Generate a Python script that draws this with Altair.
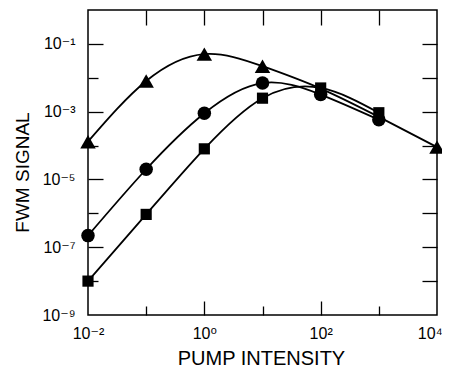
import altair as alt
import pandas as pd

# ---- data (log-log) ----
series_names = ["triangles", "circles", "squares"]

tri_x = [0.01, 0.1, 1, 10, 10000]
tri_y = [1.3e-4, 8e-3, 5e-2, 2.2e-2, 9e-5]
# triangle curve also passes these (unmarked) points
tri_curve_x = [0.01, 0.1, 1, 10, 100, 1000, 10000]
tri_curve_y = [1.3e-4, 8e-3, 5e-2, 2.2e-2, 4.8e-3, 7e-4, 9e-5]

circ_x = [0.01, 0.1, 1, 10, 100, 1000]
circ_y = [2.2e-7, 2e-5, 9e-4, 7e-3, 3.2e-3, 5.8e-4]

sq_x = [0.01, 0.1, 1, 10, 100, 1000]
sq_y = [1e-8, 9.3e-7, 8e-5, 2.5e-3, 5e-3, 9.3e-4]

x_major = [1e-2, 1, 1e2, 1e4]
x_major_ticks = [1, 1e2]
x_minor_ticks = [1e-1, 1e1, 1e3]
x_all_ticks = [1e-1, 1, 1e1, 1e2, 1e3]
y_major = [1e-9, 1e-7, 1e-5, 1e-3, 1e-1]
y_major_ticks = [1e-7, 1e-5, 1e-3, 1e-1]
y_minor_ticks = [1e-8, 1e-6, 1e-4, 1e-2]
y_all_ticks = [1e-8, 1e-7, 1e-6, 1e-5, 1e-4, 1e-3, 1e-2, 1e-1]

curves = pd.concat([
    pd.DataFrame({"pump": tri_curve_x, "signal": tri_curve_y, "series": "triangles"}),
    pd.DataFrame({"pump": circ_x, "signal": circ_y, "series": "circles"}),
    pd.DataFrame({"pump": sq_x, "signal": sq_y, "series": "squares"}),
], ignore_index=True)

points = pd.concat([
    pd.DataFrame({"pump": tri_x, "signal": tri_y, "series": "triangles"}),
    pd.DataFrame({"pump": circ_x, "signal": circ_y, "series": "circles"}),
    pd.DataFrame({"pump": sq_x, "signal": sq_y, "series": "squares"}),
], ignore_index=True)

FONT = "Liberation Sans, Arial, Helvetica, DejaVu Sans, sans-serif"
xs = alt.Scale(type="log", domain=[1e-2, 1e4], nice=False)
ys = alt.Scale(type="log", domain=[1e-9, 1], nice=False)

lab = ("'10' + (round(log(datum.value)/LN10) < 0 ? '\u207b' : '') + "
       "['\u2070','\u00b9','\u00b2','\u00b3','\u2074','\u2075','\u2076','\u2077','\u2078','\u2079']"
       "[abs(round(log(datum.value)/LN10))]")


def tick_axis(orient, values, size):
    return alt.Axis(orient=orient, values=values, labels=False, domain=False, grid=False,
                    ticks=True, tickSize=size, offset=-size, tickColor="black",
                    tickWidth=1.3, title=None)


label_x = alt.Axis(orient="bottom", values=x_major, ticks=False, tickSize=0, domain=False,
                   grid=False, labelExpr=lab, labelFont=FONT, labelFontSize=16,
                   labelColor="black", labelPadding=23, labelBaseline="alphabetic",
                   labelAlign={"condition": {"test": "datum.value >= 10000", "value": "right"},
                               "value": "center"},
                   labelOffset={"condition": {"test": "datum.value >= 10000", "value": 5},
                                "value": 0},
                   labelFlush=False, labelOverlap=False, labelBound=False,
                   title="PUMP INTENSITY", titleFont=FONT, titleFontSize=20,
                   titleFontWeight="normal", titleColor="black", titleX=173, titleY=49,
                   titleBaseline="alphabetic", titleAlign="center")
label_y = alt.Axis(orient="left", values=y_major, ticks=False, tickSize=0, domain=False,
                   grid=False, labelExpr=lab, labelFont=FONT, labelFontSize=16,
                   labelColor="black", labelPadding=13, labelFlush=False, labelOverlap=False,
                   title="FWM SIGNAL", titleFont=FONT, titleFontSize=19,
                   titleFontWeight="normal", titleColor="black", titleAngle=270,
                   titleX=-60, titleY=162, titleBaseline="alphabetic", titleAlign="center")

lines = alt.Chart(curves).mark_line(interpolate="natural", color="black", strokeWidth=1.8).encode(
    x=alt.X("pump:Q", scale=xs, axis=label_x),
    y=alt.Y("signal:Q", scale=ys, axis=label_y),
    detail="series:N",
)

marks = alt.Chart(points).mark_point(filled=True, color="black", opacity=1).encode(
    x=alt.X("pump:Q", scale=xs, axis=tick_axis("bottom", x_major_ticks, 14)),
    y=alt.Y("signal:Q", scale=ys, axis=tick_axis("left", y_major_ticks, 15)),
    shape=alt.Shape("series:N", scale=alt.Scale(domain=series_names,
                    range=["triangle-up", "circle", "square"]), legend=None),
    size=alt.Size("series:N", scale=alt.Scale(domain=series_names, range=[240, 125, 121]),
                  legend=None),
)

minor = alt.Chart(points).mark_point(opacity=0).encode(
    x=alt.X("pump:Q", scale=xs, axis=tick_axis("bottom", x_minor_ticks, 9)),
    y=alt.Y("signal:Q", scale=ys, axis=tick_axis("left", y_minor_ticks, 10)),
)

opposite = alt.Chart(points).mark_point(opacity=0).encode(
    x=alt.X("pump:Q", scale=xs, axis=tick_axis("top", x_all_ticks, 15)),
    y=alt.Y("signal:Q", scale=ys, axis=tick_axis("right", y_all_ticks, 15)),
)

chart = alt.layer(lines, marks, minor, opposite).resolve_axis(
    x="independent", y="independent"
).properties(
    width=349, height=305, autosize="none",
    padding={"left": 80, "top": 2, "right": 5, "bottom": 53},
    background="white",
).configure_view(stroke="black", strokeWidth=1.5)

chart.save("out.html", embed_options={"renderer": "svg", "actions": False})
